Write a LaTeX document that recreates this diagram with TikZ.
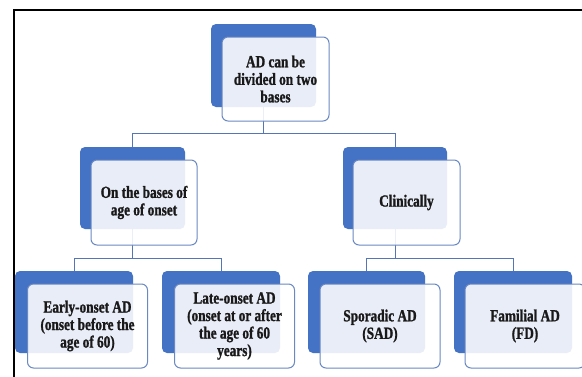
\documentclass[tikz,border=0pt]{standalone}
\usepackage{fontspec}
\setmainfont{Liberation Serif}[FakeStretch=0.78, BoldFeatures={FakeBold=1.2}]
\definecolor{dblue}{HTML}{4472C4}
\definecolor{lborder}{HTML}{6A88C2}
\definecolor{conn}{HTML}{5575B5}
\begin{document}
\begin{tikzpicture}[x=1pt,y=-1pt,
  darkbox/.style={rectangle, rounded corners=5pt, fill=dblue, inner sep=0pt},
  lightbox/.style={rectangle, rounded corners=6pt, fill=white, fill opacity=0.88, text opacity=1,
    draw=lborder, line width=1pt, inner sep=0pt, align=center, text=black!90,
    font=\fontsize{17}{17.5}\selectfont\bfseries},
  conline/.style={draw=conn, line width=1pt}]
\useasboundingbox (0,0) rectangle (582,376);
\fill[white] (0,0) rectangle (582,376);
% dark boxes
\node[darkbox, minimum width=105pt, minimum height=83pt] (d0) at (263.5,65.5) {};
\node[darkbox, minimum width=105pt, minimum height=82pt] (d1) at (132.5,188) {};
\node[darkbox, minimum width=104pt, minimum height=82pt] (d2) at (395,188) {};
\node[darkbox, minimum width=118pt, minimum height=82pt] (d3) at (74,312) {};
\node[darkbox, minimum width=118pt, minimum height=82pt] (d4) at (221,312) {};
\node[darkbox, minimum width=117pt, minimum height=82pt] (d5) at (366.5,312) {};
\node[darkbox, minimum width=118pt, minimum height=82pt] (d6) at (513,312) {};
% connectors
\draw[conline] (d0.south) -- (d0.south |- 0,133) -| (d1.north);
\draw[conline] (d0.south |- 0,133) -| (d2.north);
\draw[conline] (d1.south) -- (d1.south |- 0,258) -| (d3.north);
\draw[conline] (d1.south |- 0,258) -| (d4.north);
\draw[conline] (d2.south) -- (d2.south |- 0,258) -| (d5.north);
\draw[conline] (d2.south |- 0,258) -| (d6.north);
% light boxes
\node[lightbox, minimum width=107pt, minimum height=84pt] (l0) at (275.5,79) {AD can be\\divided on two\\bases};
\node[lightbox, minimum width=106pt, minimum height=85pt] (l1) at (144,202.5) {On the bases of\\age of onset};
\node[lightbox, minimum width=107pt, minimum height=85pt] (l2) at (406.5,202.5) {Clinically};
\node[lightbox, minimum width=120pt, minimum height=84pt] (l3) at (87.5,326) {Early-onset AD\\(onset before the\\age of 60)};
\node[lightbox, minimum width=120pt, minimum height=84pt] (l4) at (234.5,326) {Late-onset AD\\(onset at or after\\the age of 60\\years)};
\node[lightbox, minimum width=120pt, minimum height=84pt] (l5) at (380,326) {Sporadic AD\\(SAD)};
\node[lightbox, minimum width=120pt, minimum height=84pt] (l6) at (525,326) {Familial AD\\(FD)};
% frame
\draw[black, line width=2.8pt] (14,380) -- (14,10) -- (590,10);
\end{tikzpicture}
\end{document}
